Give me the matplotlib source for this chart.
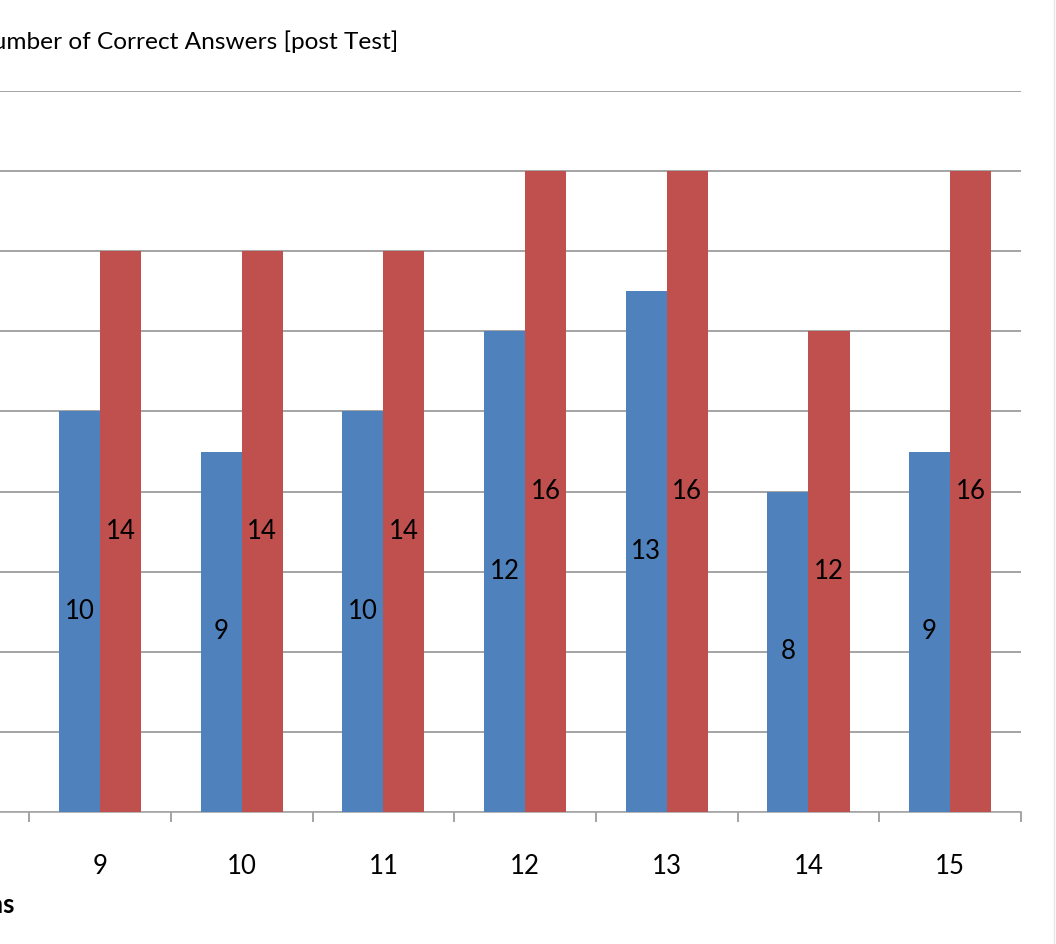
import numpy as np
import matplotlib
matplotlib.use('Agg')
import matplotlib.pyplot as plt
from matplotlib.lines import Line2D

plt.rcParams['font.family'] = ['Lato', 'DejaVu Sans']

# Data
questions = ['9', '10', '11', '12', '13', '14', '15']
pre_test = [10, 9, 10, 12, 13, 8, 9]
post_test = [14, 14, 14, 16, 16, 12, 16]
title_text = 'Number of Correct Answers [post Test]'
x_label = 'Questions'

blue = '#4F81BD'
red = '#C0504D'
grid_col = '#8C8C8C'

W, H = 1056, 944
Figure = plt.figure(figsize=(W / 100, H / 100), dpi=100)
Axes = Figure.add_axes([0, 132 / H, 1021 / W, 721 / H])

pos = np.arange(9, 9 + len(questions))
bw = 0.29
Axes.bar(pos - bw / 2, pre_test, width=bw, color=blue, zorder=3)
Axes.bar(pos + bw / 2, post_test, width=bw, color=red, zorder=3)

for p, v in zip(pos, pre_test):
    Axes.text(p - bw / 2, v / 2, str(v), ha='center', va='center', fontsize=18.5, color='black', zorder=4)
for p, v in zip(pos, post_test):
    Axes.text(p + bw / 2, v / 2, str(v), ha='center', va='center', fontsize=18.5, color='black', zorder=4)

Axes.set_xlim(9 - 100 / 141.67, 15.5)
Axes.set_ylim(0, 18)
Axes.set_yticks(np.arange(0, 19, 2))
Axes.yaxis.grid(True, color=grid_col, linewidth=1.1, zorder=0)
Axes.tick_params(axis='y', left=False, labelleft=False)

Axes.set_xticks(pos)
Axes.set_xticklabels(questions, fontsize=18.5)
Axes.set_xticks(np.arange(8.5, 15.6, 1), minor=True)
Axes.tick_params(axis='x', which='major', length=0, pad=30)
Axes.tick_params(axis='x', which='minor', length=7, color='#8C8C8C', width=1.1, direction='out')

for s in ['top', 'right', 'left']:
    Axes.spines[s].set_visible(False)
Axes.spines['bottom'].set_color('#A6A6A6')
Axes.spines['bottom'].set_linewidth(1.2)

Figure.text(398 / W, 1 - 42 / H, title_text, ha='right', va='center', fontsize=17.6)
Figure.text(14 / W, 1 - 905 / H, x_label, ha='right', va='center', fontsize=18.5, fontweight='bold')

Figure.add_artist(Line2D([1054 / W, 1054 / W], [0, 1], color='#E6E6E6', linewidth=1.0, transform=Figure.transFigure))

Figure.savefig('out.png', dpi=100)
plt.close(Figure)
